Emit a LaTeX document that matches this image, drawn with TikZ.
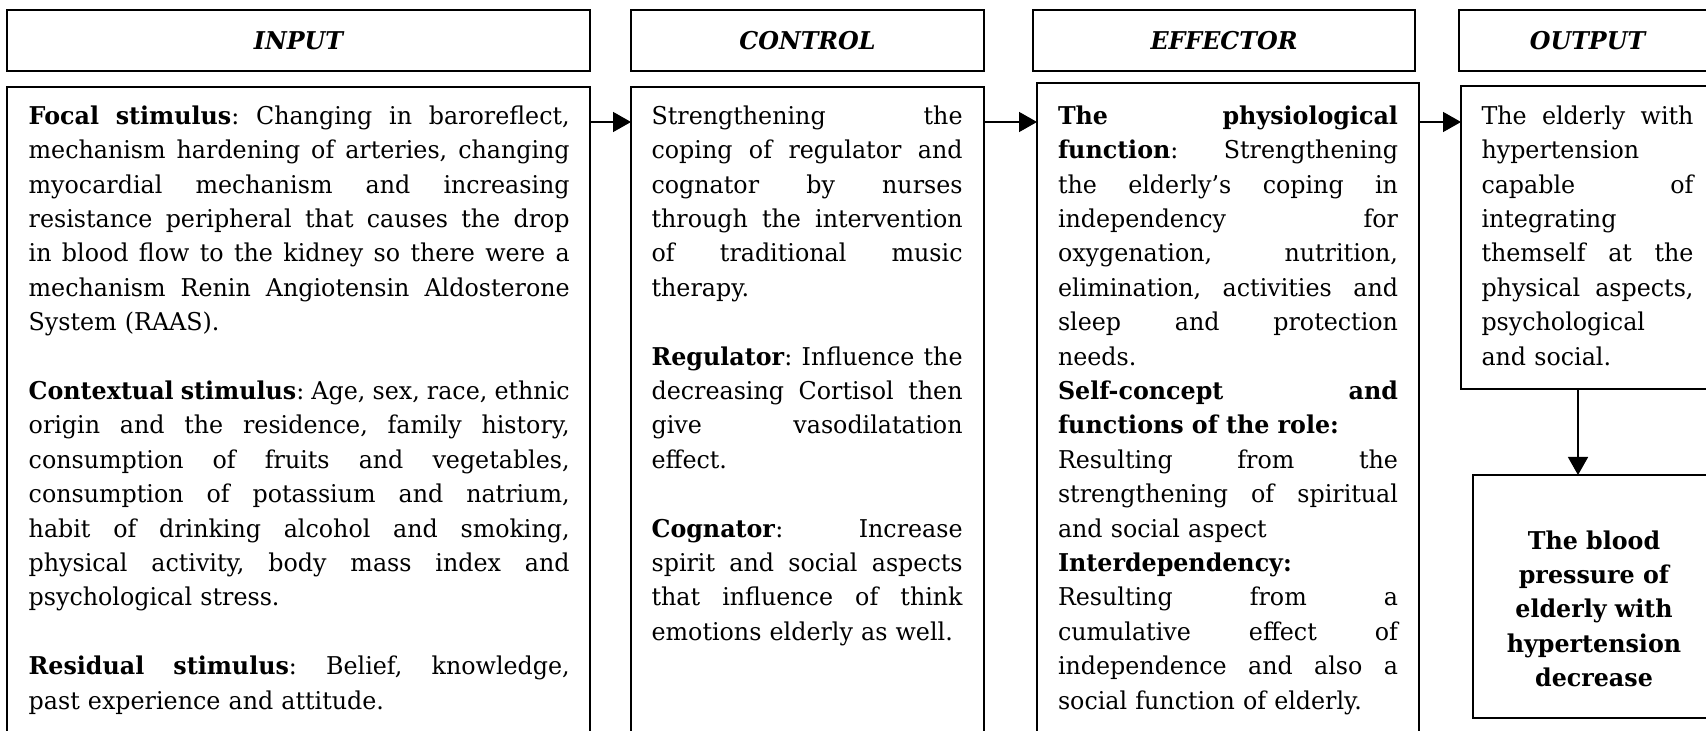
\documentclass[tikz,border=0pt]{standalone}
\usepackage{fontspec}
\setmainfont{DejaVu Serif}[FakeStretch=0.97]
\usetikzlibrary{arrows.meta,fit}
\newdimen\pxu \pxu=0.5pt
\newdimen\tw
\newcommand\jl[1]{\leavevmode{\spaceskip=\fontdimen2\font plus 1fil minus 0.45\fontdimen2\font\relax\hbox to\tw{#1}}}
\frenchspacing
\begin{document}
\begin{tikzpicture}[x=\pxu,y=-\pxu,
  box/.style={draw,line width=0.75pt,inner sep=0pt,outer sep=0pt},
  hdr/.style={inner sep=0pt,font={\fontsize{12.25pt}{16.9pt}\selectfont\bfseries\itshape}},
  txt/.style={anchor=north west,inner sep=0pt,outer sep=0pt,align=left,
    font={\fontsize{12.25pt}{17.2pt}\selectfont\frenchspacing}},
  dec/.style={anchor=north,inner sep=0pt,outer sep=0pt,align=center,
    font={\fontsize{12.25pt}{17.2pt}\selectfont\bfseries}},
  arr/.style={line width=0.75pt,-{Triangle[length=9pt,width=10pt]}}]
\useasboundingbox (0,0) rectangle (1706,731);
% header boxes
\node[box,fit={(7,10)(590,71)}] (inhead) {};
\node[box,fit={(631,10)(984,71)}] (ctlhead) {};
\node[box,fit={(1033,10)(1415,71)}] (effhead) {};
\node[box,fit={(1459,10)(1716,71)}] (outhead) {};
\node[hdr] (inheadtxt) at (inhead.center) {INPUT};
\node[hdr] (ctlheadtxt) at (ctlhead.center) {CONTROL};
\node[hdr] (effheadtxt) at (effhead.center) {EFFECTOR};
\node[hdr] (outheadtxt) at (outhead.center) {OUTPUT};
% bodies
\node[box,fit={(7,87)(590,760)}] (inbody) {};
\node[box,fit={(631,87)(984,760)}] (ctlbody) {};
\node[box,fit={(1037,83)(1419,760)}] (effbody) {};
\node[box,fit={(1461,86)(1715,389)}] (outbody) {};
\node[box,fit={(1473,475)(1715,718)}] (decbox) {};
% texts
\node[txt,text width=541\pxu] (intext) at (28.7,100.3) {\tw=541\pxu
\jl{\strut\textbf{Focal stimulus}: Changing in baroreflect,}\\
\jl{mechanism hardening of arteries, changing}\\
\jl{myocardial mechanism and increasing}\\
\jl{resistance peripheral that causes the drop}\\
\jl{in blood flow to the kidney so there were a}\\
\jl{mechanism Renin Angiotensin Aldosterone}\\
System (RAAS).\\[\baselineskip]
\jl{\textbf{Contextual stimulus}: Age, sex, race, ethnic}\\
\jl{origin and the residence, family history,}\\
\jl{consumption of fruits and vegetables,}\\
\jl{consumption of potassium and natrium,}\\
\jl{habit of drinking alcohol and smoking,}\\
\jl{physical activity, body mass index and}\\
psychological stress.\\[\baselineskip]
\jl{\textbf{Residual stimulus}: Belief, knowledge,}\\
past experience and attitude.};
\node[txt,text width=311\pxu] (ctltext) at (651.6,100.3) {\tw=311\pxu
\jl{\strut Strengthening the}\\
\jl{coping of regulator and}\\
\jl{cognator by nurses}\\
\jl{through the intervention}\\
\jl{of traditional music}\\
therapy.\\[\baselineskip]
\jl{\textbf{Regulator}: Influence the}\\
\jl{decreasing Cortisol then}\\
\jl{give vasodilatation}\\
effect.\\[\baselineskip]
\jl{\textbf{Cognator}: Increase}\\
\jl{spirit and social aspects}\\
\jl{that influence of think}\\
emotions elderly as well.};
\node[txt,text width=340\pxu] (efftext) at (1058,100.3) {\tw=340\pxu
\jl{\strut\textbf{The physiological}}\\
\jl{\textbf{function}: Strengthening}\\
\jl{the elderly’s coping in}\\
\jl{independency for}\\
\jl{oxygenation, nutrition,}\\
\jl{elimination, activities and}\\
\jl{sleep and protection}\\
needs.\\
\jl{\textbf{Self-concept and}}\\
\textbf{functions of the role:}\\
\jl{Resulting from the}\\
\jl{strengthening of spiritual}\\
and social aspect\\
\textbf{Interdependency:}\\
\jl{Resulting from a}\\
\jl{cumulative effect of}\\
\jl{independence and also a}\\
social function of elderly.};
\node[txt,text width=212\pxu] (outtext) at (1481.5,100.3) {\tw=212\pxu
\jl{\strut The elderly with}\\
hypertension\\
\jl{capable of}\\
integrating\\
\jl{themself at the}\\
\jl{physical aspects,}\\
psychological\\
and social.};
\node[dec] (dectext) at (1594,525) {\strut The blood\\ pressure of\\ elderly with\\ hypertension\\ decrease};
% connectors
\coordinate (row) at (0,122);
\coordinate (dx) at (1578,0);
\draw[arr] (inbody.east |- row) -- (ctlbody.west |- row);
\draw[arr] (ctlbody.east |- row) -- (effbody.west |- row);
\draw[arr] (effbody.east |- row) -- (outbody.west |- row);
\draw[arr] (outbody.south -| dx) -- (decbox.north -| dx);
\end{tikzpicture}
\end{document}
